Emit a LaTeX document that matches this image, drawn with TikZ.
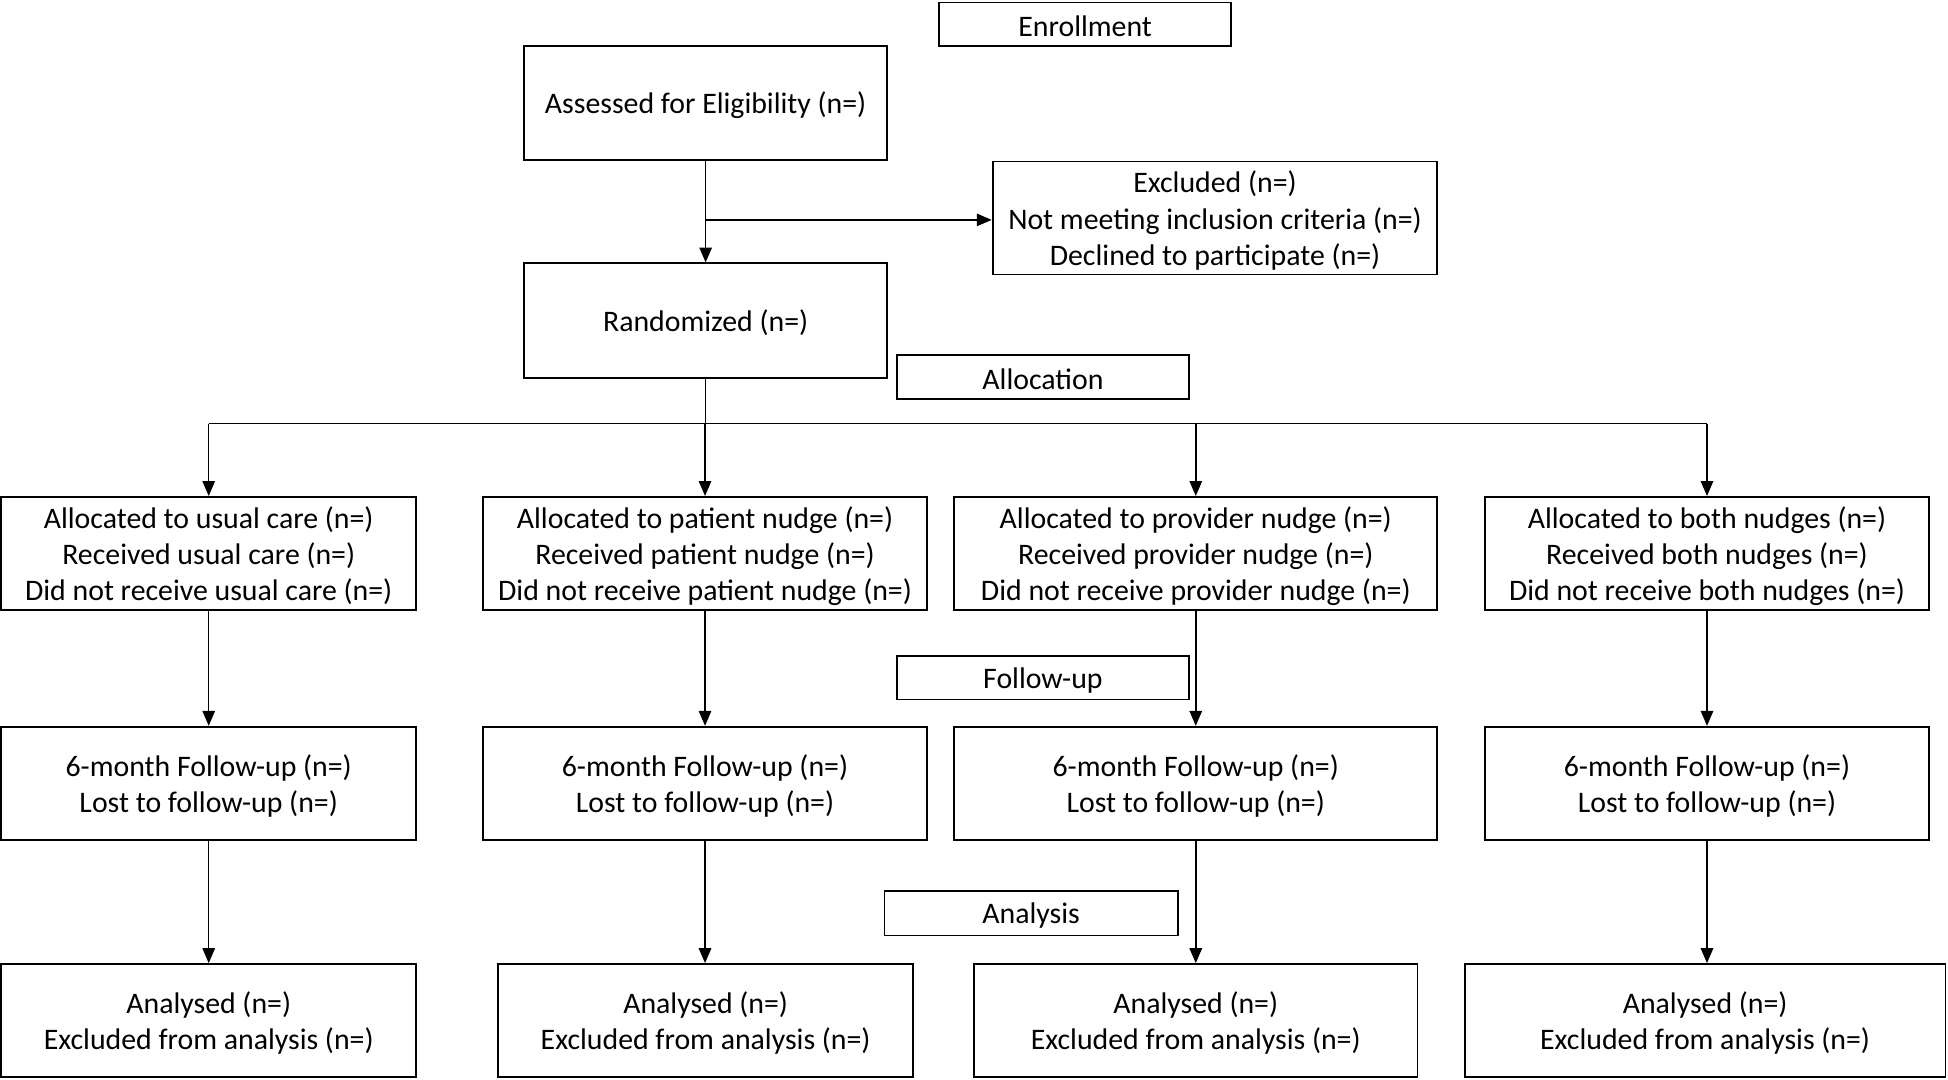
\documentclass[tikz,border=0pt]{standalone}
\usepackage{fontspec}
\setmainfont{Carlito}
\usetikzlibrary{arrows.meta}
\begin{document}
\begin{tikzpicture}[x=1pt,y=-1pt,
  box/.style={draw,line width=1.5pt,inner sep=0pt},
  txt/.style={inner sep=0pt,align=center,font=\fontsize{24}{29}\selectfont},
  arr/.style={line width=1.2pt,-{Triangle[length=12pt,width=10pt]}},
  ln/.style={line width=1.2pt}]
\useasboundingbox (0,0) rectangle (1568,869);
\newcommand{\bx}[6]{\node[box,minimum width=#4-#2,minimum height=#5-#3] (#1) at ({(#2+#4)/2},{(#3+#5)/2}) {};
  \node[txt] (#1t) at ([yshift=-2pt]#1.center) {#6};}
% stage labels
\bx{enr}{756}{2}{991}{37}{Enrollment}
\bx{alloc}{722}{286}{957}{321}{Allocation}
\bx{fol}{722}{528}{957}{563}{Follow-up}
\bx{ana}{712}{717}{948}{753}{Analysis}
% top
\bx{ass}{422}{37}{714}{129}{Assessed for Eligibility (n=)}
\bx{exc}{799}{130}{1157}{221}{Excluded (n=)\\Not meeting inclusion criteria (n=)\\Declined to participate (n=)}
\bx{ran}{422}{212}{714}{304}{Randomized (n=)}
% row 1
\bx{a1}{1}{400}{335}{491}{Allocated to usual care (n=)\\Received usual care (n=)\\Did not receive usual care (n=)}
\bx{a2}{389}{400}{746}{491}{Allocated to patient nudge (n=)\\Received patient nudge (n=)\\Did not receive patient nudge (n=)}
\bx{a3}{768}{400}{1157}{491}{Allocated to provider nudge (n=)\\Received provider nudge (n=)\\Did not receive provider nudge (n=)}
\bx{a4}{1195}{400}{1553}{491}{Allocated to both nudges (n=)\\Received both nudges (n=)\\Did not receive both nudges (n=)}
% row 2
\bx{f1}{1}{585}{335}{676}{6-month Follow-up (n=)\\Lost to follow-up (n=)}
\bx{f2}{389}{585}{746}{676}{6-month Follow-up (n=)\\Lost to follow-up (n=)}
\bx{f3}{768}{585}{1157}{676}{6-month Follow-up (n=)\\Lost to follow-up (n=)}
\bx{f4}{1195}{585}{1553}{676}{6-month Follow-up (n=)\\Lost to follow-up (n=)}
% row 3
\bx{n1}{1}{776}{335}{867}{Analysed (n=)\\Excluded from analysis (n=)}
\bx{n2}{401}{776}{735}{867}{Analysed (n=)\\Excluded from analysis (n=)}
\bx{n3}{784}{776}{1141}{867}{Analysed (n=)\\Excluded from analysis (n=)}
\bx{n4}{1179}{776}{1566}{867}{Analysed (n=)\\Excluded from analysis (n=)}
% connectors
\coordinate (br) at (568,177);
\draw[arr] (ass.south) -- (ran.north);
\draw[arr] (br) -- (br -| exc.west);
\coordinate (sp) at (568,341);
\draw[ln] (ran.south) -- (sp);
\draw[ln] (sp -| a1.north) -- (sp -| a4.north);
\foreach \i in {1,2,3,4}{
  \draw[arr] (sp -| a\i.north) -- (a\i.north);
  \draw[arr] (a\i.south) -- (f\i.north);
  \draw[arr] (f\i.south) -- (f\i.south |- n\i.north);
}
\end{tikzpicture}
\end{document}
